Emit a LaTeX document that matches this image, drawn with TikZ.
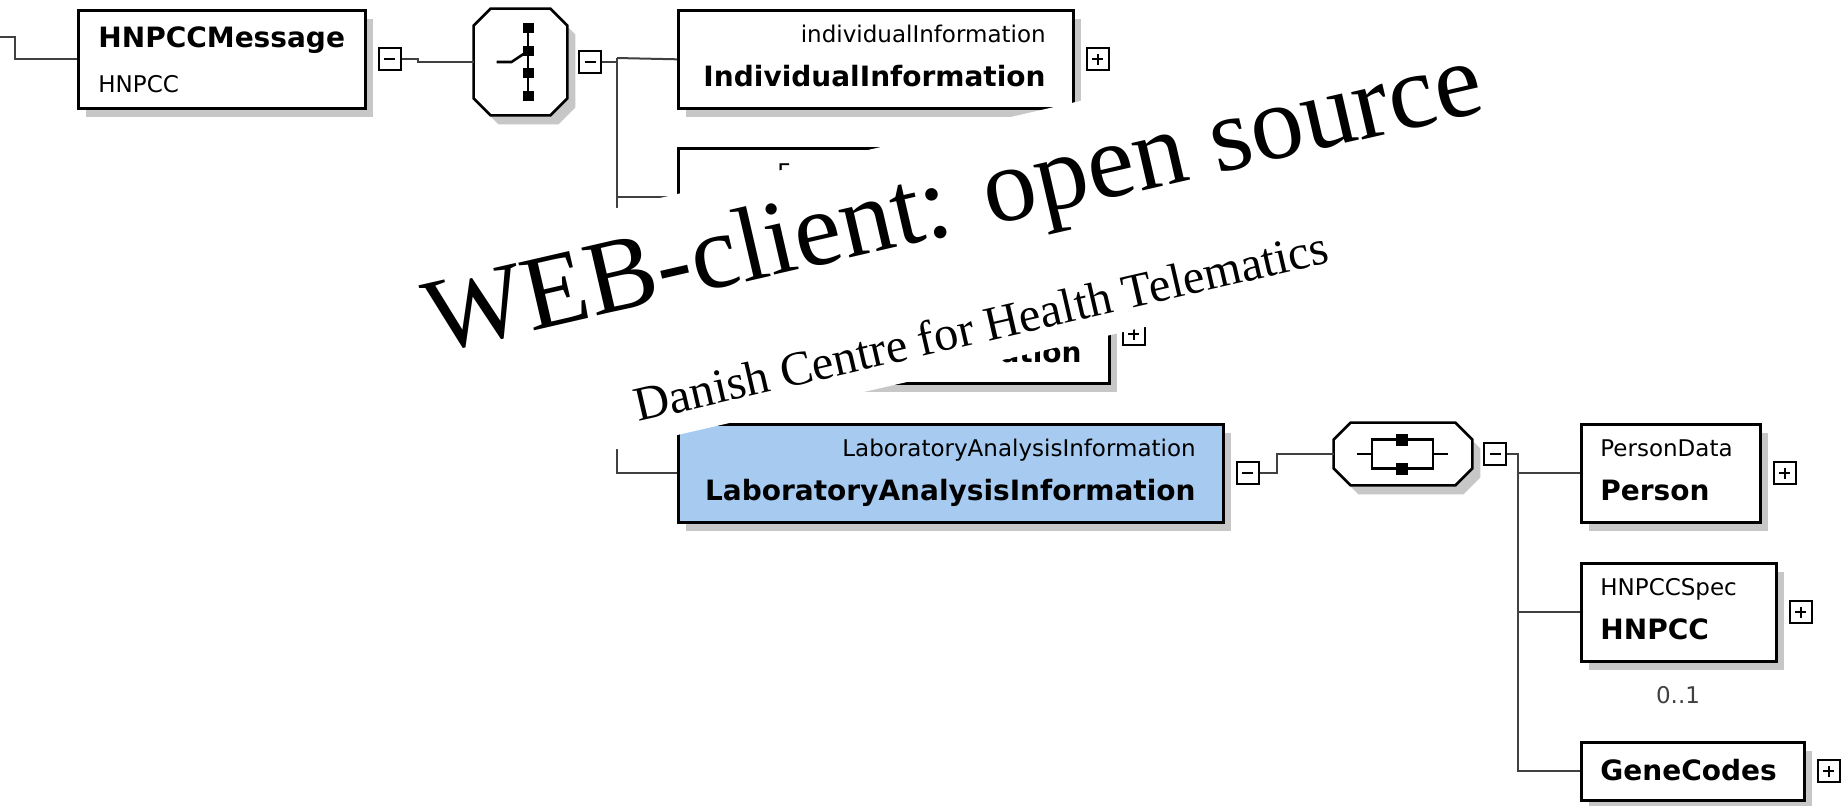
\documentclass[tikz,border=0pt]{standalone}
\usepackage{fontspec}
\setmainfont{DejaVu Sans}
\newfontfamily\wmfont{Liberation Serif}
\usepackage{tikz}
\usetikzlibrary{positioning,shadows}
\definecolor{labblue}{RGB}{166,202,240}
\definecolor{wiregray}{RGB}{64,64,64}

\begin{document}
\begin{tikzpicture}[x=0.5pt,y=0.5pt,yscale=-1,xscale=1,
  boxshadow/.style={drop shadow={shadow xshift=4pt,shadow yshift=-4.5pt,fill=black!22,opacity=1}},
  elem/.style={draw,line width=1.3pt,fill=white,anchor=north west,inner sep=0pt,minimum height=49pt,boxshadow},
  octo/.style={rectangle,inner sep=0pt},
  octoline/.style={draw=black,line width=1.3pt,fill=white},
  octoshadow/.style={fill=black!22},
  pm/.style={draw,line width=1pt,fill=white,minimum size=11pt,inner sep=0pt},
  minus/.style={pm,path picture={\draw[line width=1pt] ([xshift=-2.75pt]path picture bounding box.center) -- ([xshift=2.75pt]path picture bounding box.center);}},
  plus/.style={pm,path picture={\draw[line width=1pt] ([xshift=-2.75pt]path picture bounding box.center) -- ([xshift=2.75pt]path picture bounding box.center) ([yshift=-2.75pt]path picture bounding box.center) -- ([yshift=2.75pt]path picture bounding box.center);}},
  wire/.style={draw=wiregray,line width=1pt},
  sym/.style={draw=black,line width=1.3pt},
  typelbl/.style={font=\fontsize{11.5}{13}\selectfont,inner sep=0pt},
  namelbl/.style={font=\fontsize{14}{16}\selectfont\bfseries,inner sep=0pt},
  wmbig/.style={font=\wmfont\fontsize{53}{60}\selectfont,inner sep=0pt,anchor=base west,rotate=13},
  wmsmall/.style={font=\wmfont\fontsize{24.25}{28}\selectfont,inner sep=0pt,anchor=base west,rotate=13}]
\useasboundingbox (0,0) rectangle (1848,805);

%Shape: Rectangle [HNPCCMessage]
\node[elem,minimum width=143.5pt] (msg) at (77,9) {};
%Shape: Rectangle [individualInformation]
\node[elem,minimum width=197.5pt] (ind) at (677,9) {};
%Shape: Rectangle [F...]
\node[elem,minimum width=197.5pt] (fam) at (677,147) {};
%Shape: Rectangle [...ation]
\node[elem,minimum width=215.5pt] (cli) at (677,284) {};
%Shape: Rectangle [LaboratoryAnalysisInformation]
\node[elem,fill=labblue,minimum width=272.5pt] (lab) at (677,423) {};
%Shape: Rectangle [PersonData]
\node[elem,minimum width=89.5pt] (per) at (1580,423) {};
%Shape: Rectangle [HNPCCSpec]
\node[elem,minimum width=97.5pt] (hnp) at (1580,562) {};
%Shape: Rectangle [GeneCodes]
\node[elem,minimum width=111.5pt,minimum height=29pt] (gen) at (1580,741) {};

%Shape: Octagon [sequence]
\node[octo,minimum width=46.5pt,minimum height=53pt] (seq) at (520.5,62) {};
\fill[octoshadow] ([shift={(25,9)}]seq.north west) -- ([shift={(-9,9)}]seq.north east) -- ([shift={(8,26)}]seq.north east)
  -- ([shift={(8,-8)}]seq.south east) -- ([shift={(-9,9)}]seq.south east) -- ([shift={(25,9)}]seq.south west)
  -- ([shift={(8,-8)}]seq.south west) -- ([shift={(8,26)}]seq.north west) -- cycle;
\draw[octoline] ([xshift=8.5pt]seq.north west) -- ([xshift=-8.5pt]seq.north east) -- ([shift={(0,17)}]seq.north east)
  -- ([shift={(0,-17)}]seq.south east) -- ([xshift=-8.5pt]seq.south east) -- ([xshift=8.5pt]seq.south west)
  -- ([shift={(0,-17)}]seq.south west) -- ([shift={(0,17)}]seq.north west) -- cycle;
%Shape: Octagon [choice]
\node[octo,minimum width=69pt,minimum height=31pt] (cho) at (1403,454) {};
\fill[octoshadow] ([shift={(25,9)}]cho.north west) -- ([shift={(-9,9)}]cho.north east) -- ([shift={(8,26)}]cho.north east)
  -- ([shift={(8,-8)}]cho.south east) -- ([shift={(-9,9)}]cho.south east) -- ([shift={(25,9)}]cho.south west)
  -- ([shift={(8,-8)}]cho.south west) -- ([shift={(8,26)}]cho.north west) -- cycle;
\draw[octoline] ([xshift=8.5pt]cho.north west) -- ([xshift=-8.5pt]cho.north east) -- ([shift={(0,17)}]cho.north east)
  -- ([shift={(0,-17)}]cho.south east) -- ([xshift=-8.5pt]cho.south east) -- ([xshift=8.5pt]cho.south west)
  -- ([shift={(0,-17)}]cho.south west) -- ([shift={(0,17)}]cho.north west) -- cycle;

% Expand boxes
\node[minus,right=5.5pt of msg] (m1) {};
\node[minus,right=5.5pt of seq] (m2) {};
\node[minus,right=5.5pt of lab] (m3) {};
\node[minus,right=5.5pt of cho] (m4) {};
\node[plus,right=5.5pt of ind] (p1) {};
\node[plus,right=5.5pt of fam] (p0) {};
\node[plus,right=5.5pt of cli] (p2) {};
\node[plus,right=5.5pt of per] (p3) {};
\node[plus,right=5.5pt of hnp] (p4) {};
\node[plus,right=5.5pt of gen] (p5) {};

\coordinate (in0) at (0,37);
\coordinate (t1) at (617,58);
\coordinate (t2) at (1518,454);

% Connection
\draw[wire] (in0) -- ++(15,0) |- (msg.west);
% Connection
\draw[wire] (m1.east) -- ++(16,0) |- (seq.west);
% Connection
\draw[wire] (m2.east) -- (m2.east -| t1);
\draw[wire] (t1) -- (t1 |- lab.west) -- (lab.west);
\draw[wire] (t1) -- (ind.west);
\draw[wire] (t1 |- fam.west) -- (fam.west);
\draw[wire] (t1 |- cli.west) -- (cli.west);
% Connection
\draw[wire] (m3.east) -- ++(17,0) |- (cho.west);
% Connection
\draw[wire] (m4.east) -- (t2) -- (t2 |- gen.west) -- (gen.west);
\draw[wire] (t2 |- per.west) -- (per.west);
\draw[wire] (t2 |- hnp.west) -- (hnp.west);

% sequence symbol
\draw[sym] ([shift={(7.5,-34)}]seq.center) -- ([shift={(7.5,34)}]seq.center);
\draw[sym] ([shift={(-24,0)}]seq.center) -- ([shift={(-9,0)}]seq.center) -- ([shift={(7.5,-11)}]seq.center);
\foreach \dy in {-34,-11,11,34}
  \fill ([shift={(2,\dy-5)}]seq.center) rectangle ++(11,10);
% choice symbol
\draw[sym] ([shift={(-46,0)}]cho.center) -- ([shift={(-31,0)}]cho.center);
\draw[sym] ([shift={(-31,-14.5)}]cho.center) rectangle ([shift={(30,14.5)}]cho.center);
\draw[sym] ([shift={(30,0)}]cho.center) -- ([shift={(45,0)}]cho.center);
\foreach \dy in {-14.5,14.5}
  \fill ([shift={(-7,\dy-6)}]cho.center) rectangle ++(12,12);

% Text Node
\node[namelbl,anchor=base west] (msgN) at (98,47) {HNPCCMessage};
% Text Node
\node[typelbl,anchor=base west] (msgT) at (98,92) {HNPCC};
% Text Node
\node[typelbl,anchor=base east] (indT) at (1046,42) {individualInformation};
% Text Node
\node[namelbl,anchor=base east] (indN) at (1046,86) {IndividualInformation};
% Text Node
\node[typelbl,anchor=base west] (famT) at (777,180) {F};
% Text Node
\node[namelbl,anchor=base east] (cliN) at (1082,362) {ation};
% Text Node
\node[typelbl,anchor=base east] (labT) at (1196,456) {LaboratoryAnalysisInformation};
% Text Node
\node[namelbl,anchor=base east] (labN) at (1196,500) {LaboratoryAnalysisInformation};
% Text Node
\node[typelbl,anchor=base west] (perT) at (1600,456) {PersonData};
% Text Node
\node[namelbl,anchor=base west] (perN) at (1600,500) {Person};
% Text Node
\node[typelbl,anchor=base west] (hnpT) at (1600,595) {HNPCCSpec};
% Text Node
\node[namelbl,anchor=base west] (hnpN) at (1600,639) {HNPCC};
% Text Node
\node[typelbl,text=wiregray,anchor=base] (occ) at (1678,703) {0..1};
% Text Node
\node[namelbl,anchor=base west] (genN) at (1600,780) {GeneCodes};

% banner
\fill[white] (380,262.7) -- (1500,4) -- (1500,245) -- (380,503.7) -- cycle;
% Text Node
\node[wmbig] (wm1) at (434,354) {WEB-client: open source};
% Text Node
\node[wmsmall] (wm2) at (638,422) {Danish Centre for Health Telematics};

\end{tikzpicture}
\end{document}
